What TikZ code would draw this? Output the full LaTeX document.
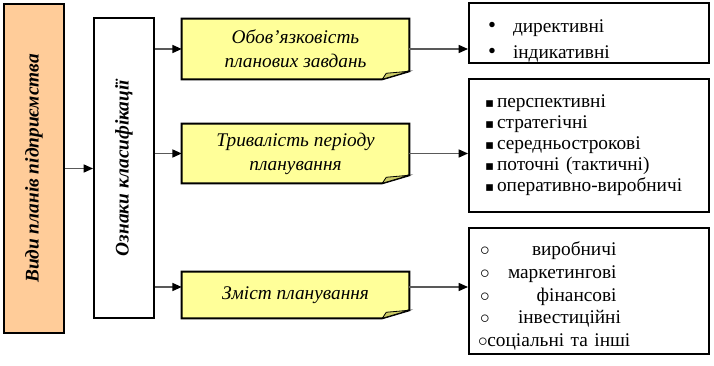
\documentclass[tikz,border=0pt]{standalone}
\usepackage{fontspec}
\setmainfont{Liberation Serif}
\newfontfamily\symfont{DejaVu Sans}
\usetikzlibrary{arrows.meta,positioning,calc,backgrounds}
\definecolor{vydcol}{RGB}{255,204,153}
\definecolor{notecol}{RGB}{255,255,153}
\definecolor{foldcol}{RGB}{204,204,102}
\definecolor{linecol}{RGB}{89,89,89}
\def\dt{\makebox[18.75pt][l]{\fontsize{17}{17}\selectfont•}}
\def\sq{\makebox[9pt][l]{\symfont\fontsize{10}{10}\selectfont ▪}}
\def\ci#1{\makebox[#1][l]{$\circ$}}
\def\up#1{\rule{0pt}{#1}}

\begin{document}
\begin{tikzpicture}[x=0.75pt, y=-0.75pt,
  >={Triangle[length=7pt,width=6pt,color=black]},
  box/.style={draw, line width=1.5pt, inner sep=0pt},
  vert/.style={box, minimum width=45pt, font=\fontsize{14.5}{16}\selectfont\bfseries\itshape},
  note/.style={minimum width=170.25pt, inner sep=0pt, align=center, font=\fontsize{14.5}{18}\selectfont\itshape},
  list/.style={box, minimum width=180pt, inner ysep=0pt, align=left},
  e/.style={->, line width=1.1pt, linecol},
]
\useasboundingbox (0,0) rectangle (714,366);
% left column
\node[vert, fill=vydcol, minimum height=246.75pt] (vyd) at (34,168.5) {\rotatebox{90}{Види планів підприємства}};
\node[vert, minimum height=225pt] (klas) at (124,168) {\rotatebox{90}{Ознаки класифікації}};
% classification features
\node[note, minimum height=45pt] (plan1) at (295.5,49) {Обов’язковість\\планових завдань};
\node[note, minimum height=44.25pt] (plan2) at (295.5,153.5) {Тривалість періоду\\планування};
\node[note, minimum height=34.5pt] (plan3) at (295.5,295) {Зміст планування};
% kinds of plans
\node[list, minimum height=45pt, inner xsep=14.25pt, text width=151.5pt,
  font=\fontsize{14.5}{19.5}\selectfont] (type1) at (589,33)
  {\up{22pt}\dt директивні\\ \dt індикативні};
\node[list, minimum height=99.75pt, inner xsep=12pt, text width=156pt,
  font=\fontsize{14.5}{15.75}\selectfont] (type2) at (589,145.5)
  {\sq перспективні\\ \sq стратегічні\\ \sq середньострокові\\ \sq поточні (тактичні)\\ \sq оперативно-виробничі};
\node[list, minimum height=94.5pt, inner xsep=6.75pt, text width=166.5pt,
  font=\fontsize{14.5}{17}\selectfont] (type3) at (589,291)
  {\up{18pt}\hspace{1.5pt}\ci{39pt}виробничі\\ \hspace{1.5pt}\ci{21pt}маркетингові\\
   \hspace{1.5pt}\ci{42.5pt}фінансові\\ \hspace{1.5pt}\ci{28.5pt}інвестиційні\\ \ci{7pt}соціальні та інші};
% note shapes with folded corner
\begin{scope}[on background layer]
\foreach \n in {plan1,plan2,plan3} {
  \draw[line width=1.5pt, fill=notecol] (\n.north west) -- (\n.north east)
    -- ($(\n.south east)+(0,-8)$) -- ($(\n.south east)+(-27,0)$) -- (\n.south west) -- cycle;
  \draw[line width=0.6pt, fill=foldcol] ($(\n.south east)+(-27,0)$)
    -- ($(\n.south east)+(-23,-6)$) -- ($(\n.south east)+(0,-8)$) -- cycle;
}
\end{scope}
\coordinate (p3in) at ($(plan3.west)+(0,-8)$);
\coordinate (p3out) at ($(plan3.east)+(0,-8)$);
% connectors
\draw[e] (vyd.east) -- (klas.west |- vyd.east);
\draw[e] (klas.east |- plan1.west) -- (plan1.west);
\draw[e] (klas.east |- plan2.west) -- (plan2.west);
\draw[e] (klas.east |- p3in) -- (p3in);
\draw[e] (plan1.east) -- (type1.west |- plan1.east);
\draw[e] (plan2.east) -- (type2.west |- plan2.east);
\draw[e] (p3out) -- (type3.west |- p3out);
\end{tikzpicture}
\end{document}
